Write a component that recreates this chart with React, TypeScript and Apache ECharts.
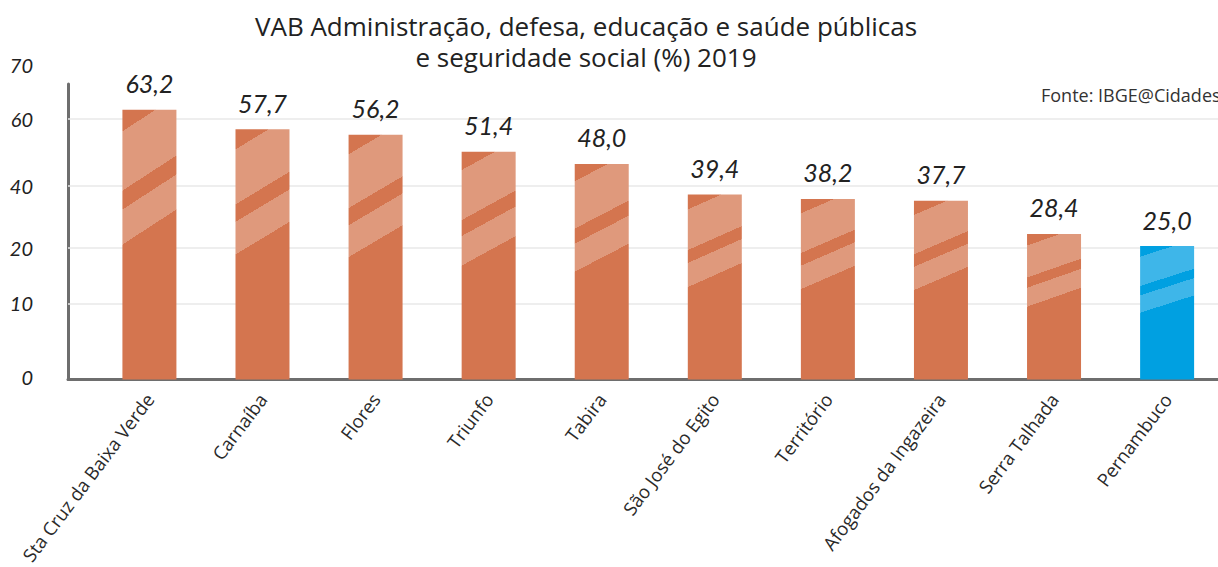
import React, { useEffect, useRef } from "react";
import * as echarts from "echarts";

const categories = [
  "Sta Cruz da Baixa Verde",
  "Carnaíba",
  "Flores",
  "Triunfo",
  "Tabira",
  "São José do Egito",
  "Território",
  "Afogados da Ingazeira",
  "Serra Talhada",
  "Pernambuco",
];
const values = [63.2, 57.7, 56.2, 51.4, 48.0, 39.4, 38.2, 37.7, 28.4, 25.0];
const highlight = "Pernambuco";

// y-axis tick labels as printed in the source, and where (in axis units) they sit
const yTickLabels = ["0", "10", "20", "40", "60"];
const yTickAt = [-11.6, 8.9, 24.5, 41.9, 60.6];
const yTopLabel = "70";
const gridAt = [8.9, 24.5, 41.9, 60.6];

const titleText =
  "VAB Administração, defesa, educação e saúde públicas\ne seguridade social (%) 2019";
const sourceText = "Fonte: IBGE@Cidades";

const FONT = "Open Sans";
const NUMFONT = "Lato";

function stripes(dark: string, light: string) {
  const r = 0.13;
  const k = 1 / (1 + r * r);
  return new echarts.graphic.LinearGradient(0, 0, r * k, k, [
    { offset: 0, color: dark },
    { offset: 0.08, color: dark },
    { offset: 0.08, color: light },
    { offset: 0.3, color: light },
    { offset: 0.3, color: dark },
    { offset: 0.37, color: dark },
    { offset: 0.37, color: light },
    { offset: 0.5, color: light },
    { offset: 0.5, color: dark },
    { offset: 1, color: dark },
  ]);
}

export default function App() {
  const ref = useRef<HTMLDivElement>(null);
  useEffect(() => {
    document.body.style.margin = "0";
    const chart = echarts.init(ref.current!, null, { renderer: "svg" });
    const orange = stripes("#D4754F", "#DF997C");
    const blue = stripes("#00A0E1", "#3EB6E9");
    chart.setOption({
      animation: false,
      backgroundColor: "#ffffff",
      title: [
        {
          text: titleText,
          left: 581,
          top: 5,
          textAlign: "center",
          textStyle: {
            fontFamily: FONT,
            fontSize: 26,
            fontWeight: "normal",
            color: "#222222",
            lineHeight: 31,
            align: "center",
          },
        },
        {
          text: sourceText,
          left: 1036,
          top: 81,
          textStyle: {
            fontFamily: FONT,
            fontSize: 18,
            fontWeight: "normal",
            color: "#333333",
          },
        },
      ],
      grid: { left: 68, right: 0, top: 84, bottom: 187 },
      xAxis: {
        type: "value",
        min: -0.72,
        max: 9.45,
        splitLine: { show: false },
        axisTick: { show: false },
        axisLine: { onZero: false, lineStyle: { color: "#6e6e6e", width: 3 } },
        axisLabel: {
          customValues: categories.map((_, i) => i),
          formatter: (v: number) => categories[Math.round(v)] ?? "",
          rotate: 53,
          margin: 16,
          fontFamily: FONT,
          fontSize: 18.5,
          color: "#2a2a2a",
        },
      },
      yAxis: {
        type: "value",
        min: -12.4,
        max: 70.4,
        startValue: -12.4,
        splitLine: { show: false },
        axisTick: { show: false },
        axisLine: { show: true, onZero: false, lineStyle: { color: "#6e6e6e", width: 3 } },
        axisLabel: {
          customValues: yTickAt,
          formatter: (v: number) => {
            let best = 0;
            yTickAt.forEach((t, i) => {
              if (Math.abs(t - v) < Math.abs(yTickAt[best] - v)) best = i;
            });
            return yTickLabels[best];
          },
          margin: 35,
          fontFamily: NUMFONT,
          fontStyle: "italic",
          fontSize: 20,
          color: "#222222",
        },
        name: yTopLabel,
        nameLocation: "end",
        nameGap: 19,
        nameTextStyle: {
          align: "right",
          verticalAlign: "middle",
          padding: [0, 35, 0, 0],
          fontFamily: NUMFONT,
          fontStyle: "italic",
          fontSize: 20,
          color: "#222222",
        },
      },
      series: [
        {
          type: "bar",
          barWidth: 54,
          z: 2,
          data: values.map((v, i) => ({
            value: [i, v],
            itemStyle: { color: categories[i] === highlight ? blue : orange },
          })),
          label: {
            show: true,
            position: "top",
            distance: 14,
            formatter: (p: any) => values[p.dataIndex].toFixed(1).replace(".", ","),
            fontFamily: NUMFONT,
            fontStyle: "italic",
            fontSize: 25,
            color: "#222222",
          },
          markLine: {
            z: 1,
            silent: true,
            symbol: "none",
            label: { show: false },
            lineStyle: { color: "#e8e8e8", width: 1.5, type: "solid" },
            data: gridAt.map((v) => ({ yAxis: v })),
          },
        },
      ],
    });
    return () => chart.dispose();
  }, []);
  return <div ref={ref} style={{ width: 1218, height: 567 }} />;
}
